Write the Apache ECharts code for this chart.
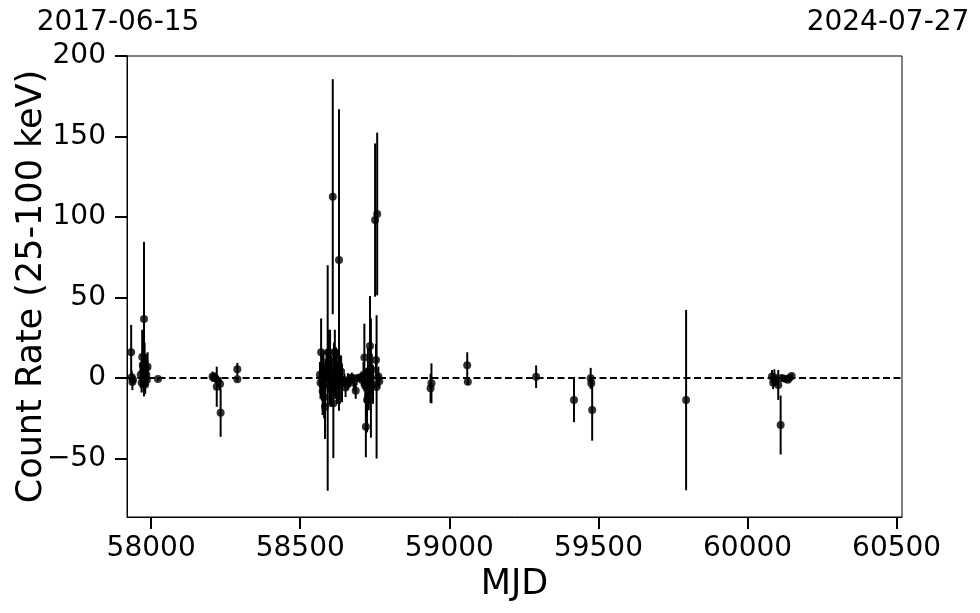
<!DOCTYPE html>
<html>
<head>
<meta charset="utf-8">
<script src="https://cdn.jsdelivr.net/npm/echarts@6/dist/echarts.min.js"></script>
<style>
html,body{margin:0;padding:0;background:#fff;}
#chart{width:980px;height:613px;}
</style>
</head>
<body>
<div id="chart"></div>
<script>
// MJD of each measurement
const mjd = [
  57933, 57935, 57937, 57939, 57965, 57968, 57970, 57972, 57973, 57975, 57976, 57978, 57979, 57980, 57982, 57984, 57986, 57988, 58023,
  58206, 58210, 58213, 58220, 58224, 58231, 58233, 58289, 58289,
  58566, 58568, 58570, 58573, 58575, 58578, 58580, 58583, 58585, 58588, 58592, 58595, 58598, 58600, 58602, 58604, 58606, 58609, 58611, 58613,
  58616, 58618, 58620, 58623, 58627, 58630, 58633, 58637, 58640, 58648, 58652, 58660, 58667, 58673, 58680, 58686, 58692, 58700, 58706,
  58712, 58715, 58718, 58720, 58724, 58727, 58730, 58734, 58737, 58740, 58744, 58751, 58754, 58756, 58758, 58762, 58765,
  58937, 58940, 59060, 59062, 59291, 59418, 59474, 59476, 59479, 59794,
  60082, 60086, 60090, 60095, 60103, 60111, 60115, 60125, 60135, 60140, 60148
];
// count rate (25-100 keV)
const rate = [
  16, 0.5, -2.5, -1, 2, -3, 13, 8, 4, -2, 36.6, 10, 0, -4, 6, 2, -1, 7, -0.6,
  1, 0, 0.5, -5.4, -1.5, -3.7, -21.5, 5.4, -0.8,
  2, -3, 16, 0, -8, 5, -12, -17.8, 3, 8, 0, 16, -5, 10, -3, 2, -7, 112.6, -15.7, 5,
  16, -2, 3, -4, 8, 73.3, -1, 4, -3, -1.2, -5.8, -2, -1.7, 0.4, -3, -7.9, 0, 0.4, -1,
  2, 12.8, -5, -30.2, -13.7, 4, -8, 19.9, 0, 5, -4, 98.1, 11.2, -5.5, 101.9, 1, -2,
  -6.4, -3.3, 8, -2.3, 0.8, -13.7, -0.2, -3.3, -19.9, -13.7,
  1, -2.9, 0.4, -1.5, -4.3, -29.2, 0, -0.5, -1, 0, 1.2
];
// 1-sigma error
const err = [
  17, 4, 5, 3, 8, 6, 17, 10, 8, 7, 48, 12, 8, 6, 9, 5, 4, 9, 1,
  3, 2, 3, 12.5, 3, 4, 15, 4, 1.5,
  8, 10, 21, 14, 15, 12, 13, 20, 9, 10, 70, 14, 12, 20, 15, 12, 10, 73, 34, 17,
  14, 11, 16, 12, 10, 93.6, 15, 10, 12, 4, 6, 5, 4, 3, 5, 5, 2, 2, 4,
  8, 21, 10, 19, 20, 15, 12, 31, 37, 10, 12, 47.6, 10, 44.5, 50.5, 6, 4,
  9, 12.4, 8, 2, 7, 13.7, 6.5, 3, 19, 56,
  4, 4, 5, 3, 9.3, 18.3, 2, 1.5, 1, 1, 1.5
];
const xTicks = [58000, 58500, 59000, 59500, 60000, 60500];
const yTicks = [-50, 0, 50, 100, 150, 200];
const topLabels = ['2017-06-15', '2024-07-27'];

const pts = mjd.map((m, i) => [m, rate[i], err[i]]);
const FONT = 'DejaVu Sans';

const chart = echarts.init(document.getElementById('chart'), null, {renderer: 'canvas'});
chart.setOption({
  animation: false,
  backgroundColor: '#fff',
  grid: {left: 127, right: 78, top: 56, bottom: 96, show: true, borderColor: '#000', borderWidth: 1,
    containLabel: false, outerBoundsMode: 'none'},
  xAxis: {
    type: 'value', min: 57919, max: 60518,
    name: 'MJD', nameLocation: 'middle', nameGap: 50, nameMoveOverlap: false,
    nameTextStyle: {fontFamily: FONT, fontSize: 35, color: '#000'},
    axisLine: {show: true, onZero: false, lineStyle: {color: '#000', width: 1}},
    axisTick: {show: true, inside: false, length: 12, lineStyle: {color: '#000', width: 2}, customValues: xTicks},
    axisLabel: {fontFamily: FONT, fontSize: 28, color: '#000', margin: 18, customValues: xTicks, formatter: v => String(v)},
    splitLine: {show: false}
  },
  yAxis: {
    type: 'value', min: -86.3, max: 200,
    name: 'Count Rate (25-100 keV)', nameLocation: 'middle', nameGap: 78, nameRotate: 90, nameMoveOverlap: false,
    nameTextStyle: {fontFamily: FONT, fontSize: 35, color: '#000'},
    axisLine: {show: true, onZero: false, lineStyle: {color: '#000', width: 1}},
    axisTick: {show: true, inside: false, length: 12, lineStyle: {color: '#000', width: 2}, customValues: yTicks},
    axisLabel: {fontFamily: FONT, fontSize: 28, color: '#000', margin: 21, customValues: yTicks,
      formatter: v => (v < 0 ? '\u2212' + Math.abs(v) : String(v))},
    splitLine: {show: false}
  },
  graphic: [
    {type: 'text', x: 118, y: 23, style: {text: topLabels[0], font: '28px "DejaVu Sans"', fill: '#000', textAlign: 'center', textVerticalAlign: 'middle'}},
    {type: 'text', x: 888, y: 23, style: {text: topLabels[1], font: '28px "DejaVu Sans"', fill: '#000', textAlign: 'center', textVerticalAlign: 'middle'}}
  ],
  series: [
    {
      type: 'custom',
      data: pts,
      encode: {x: 0, y: 1},
      renderItem: function (params, api) {
        const x = api.value(0), y = api.value(1), e = api.value(2);
        const a = api.coord([x, y + e]);
        const b = api.coord([x, y - e]);
        return {type: 'line', shape: {x1: a[0], y1: a[1], x2: b[0], y2: b[1]},
          style: {stroke: '#000', lineWidth: 2}};
      },
      z: 3
    },
    {
      type: 'scatter',
      data: pts.map(p => [p[0], p[1]]),
      symbol: 'circle', symbolSize: 8,
      itemStyle: {color: '#000'},
      z: 4,
      markLine: {
        silent: true, symbol: 'none',
        label: {show: false},
        lineStyle: {color: '#000', width: 2, type: [7, 3.5]},
        data: [{yAxis: 0}]
      }
    }
  ]
});
</script>
</body>
</html>
